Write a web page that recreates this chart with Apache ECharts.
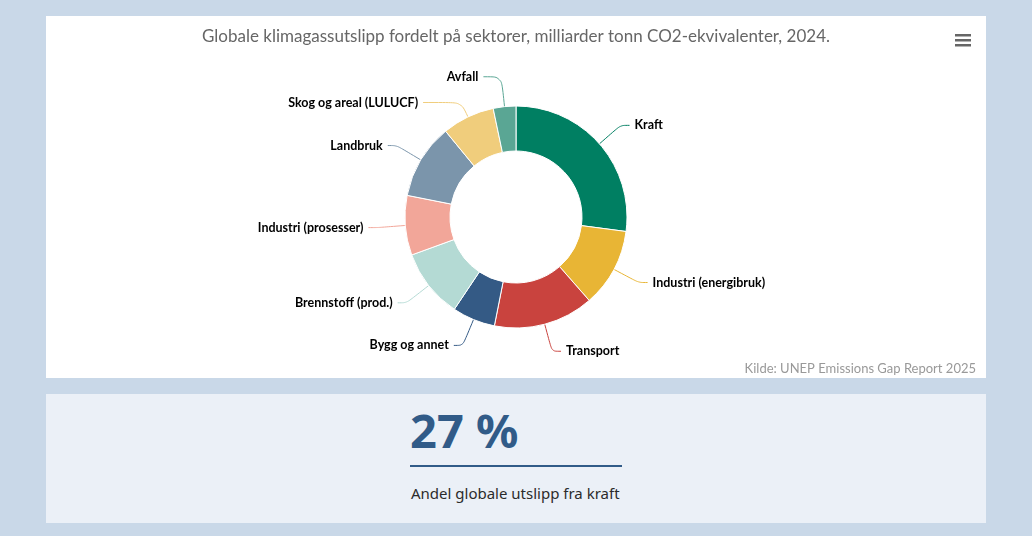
<!DOCTYPE html>
<html>
<head>
<meta charset="utf-8">
<script src="https://cdn.jsdelivr.net/npm/echarts@6/dist/echarts.min.js"></script>
<style>
  html, body { margin: 0; padding: 0; background: #c9d8e8; width: 1032px; height: 536px; overflow: hidden; }
  #chart { position: absolute; left: 46px; top: 16px; width: 940px; height: 362px; background: #ffffff; }
  #panel { position: absolute; left: 46px; top: 394px; width: 940px; height: 129px; background: #ebf0f7; }
  #big { position: absolute; left: 364px; top: 4px; font-family: "Noto Sans", sans-serif; font-weight: 700; font-size: 47px; color: #315b88; }
  #rule { position: absolute; left: 364px; top: 71px; width: 212px; height: 2px; background: #315b88; }
  #sub { position: absolute; left: 365px; top: 89px; font-family: "Noto Sans", sans-serif; font-size: 15px; color: #2b2b2b; }
</style>
</head>
<body>
<div id="chart"></div>
<div id="panel">
  <div id="big">27 %</div>
  <div id="rule"></div>
  <div id="sub">Andel globale utslipp fra kraft</div>
</div>
<script>
// Data (milliarder tonn CO2-ekvivalenter, 2024)
const categories = ["Kraft", "Industri (energibruk)", "Transport", "Bygg og annet", "Brennstoff (prod.)", "Industri (prosesser)", "Landbruk", "Skog og areal (LULUCF)", "Avfall"];
const values = [15.6, 6.6, 8.4, 3.6, 5.8, 5.0, 6.3, 4.4, 1.9];

// Styling kept separately
const colors = ["#007f62", "#e8b535", "#c9433e", "#345a85", "#b4dad4", "#f2a699", "#7b95ab", "#f0cd7c", "#5aa694"];
const labelLineOverrides = {
  "Skog og areal (LULUCF)": { length: 16, length2: 38 },
  "Avfall": { length: 30, length2: 18 }
};

const chart = echarts.init(document.getElementById('chart'), null, { renderer: 'canvas' });

const data = categories.map((name, i) => {
  const item = { name: name, value: values[i], itemStyle: { color: colors[i] } };
  if (labelLineOverrides[name]) item.labelLine = labelLineOverrides[name];
  return item;
});

chart.setOption({
  animation: false,
  title: [{
    text: "Globale klimagassutslipp fordelt på sektorer, milliarder tonn CO2-ekvivalenter, 2024.",
    left: 'center',
    top: 7,
    textStyle: { fontFamily: 'Lato', fontWeight: 'normal', fontSize: 17, color: '#666666' }
  }, {
    text: "Kilde: UNEP Emissions Gap Report 2025",
    right: 10,
    bottom: 3,
    padding: 0,
    textStyle: { fontFamily: 'Lato', fontWeight: 'normal', fontSize: 13, color: '#999999' }
  }],
  graphic: [
    { type: 'rect', shape: { x: 909, y: 18, width: 16, height: 2.5 }, style: { fill: '#666666' } },
    { type: 'rect', shape: { x: 909, y: 23, width: 16, height: 2.5 }, style: { fill: '#666666' } },
    { type: 'rect', shape: { x: 909, y: 28, width: 16, height: 2.5 }, style: { fill: '#666666' } }
  ],
  series: [{
    type: 'pie',
    center: [470, 201],
    radius: [66, 111],
    startAngle: 90,
    clockwise: true,
    avoidLabelOverlap: true,
    itemStyle: { borderColor: '#ffffff', borderWidth: 1 },
    label: {
      show: true,
      position: 'outside',
      formatter: '{b}',
      fontFamily: 'Lato',
      fontWeight: 'bold',
      fontSize: 12.5,
      color: '#000000',
      distanceToLabelLine: 5
    },
    labelLine: { show: true, length: 28, length2: 9, smooth: 0.3, lineStyle: { width: 1 } },
    emphasis: { disabled: true },
    data: data
  }]
});
</script>
</body>
</html>
